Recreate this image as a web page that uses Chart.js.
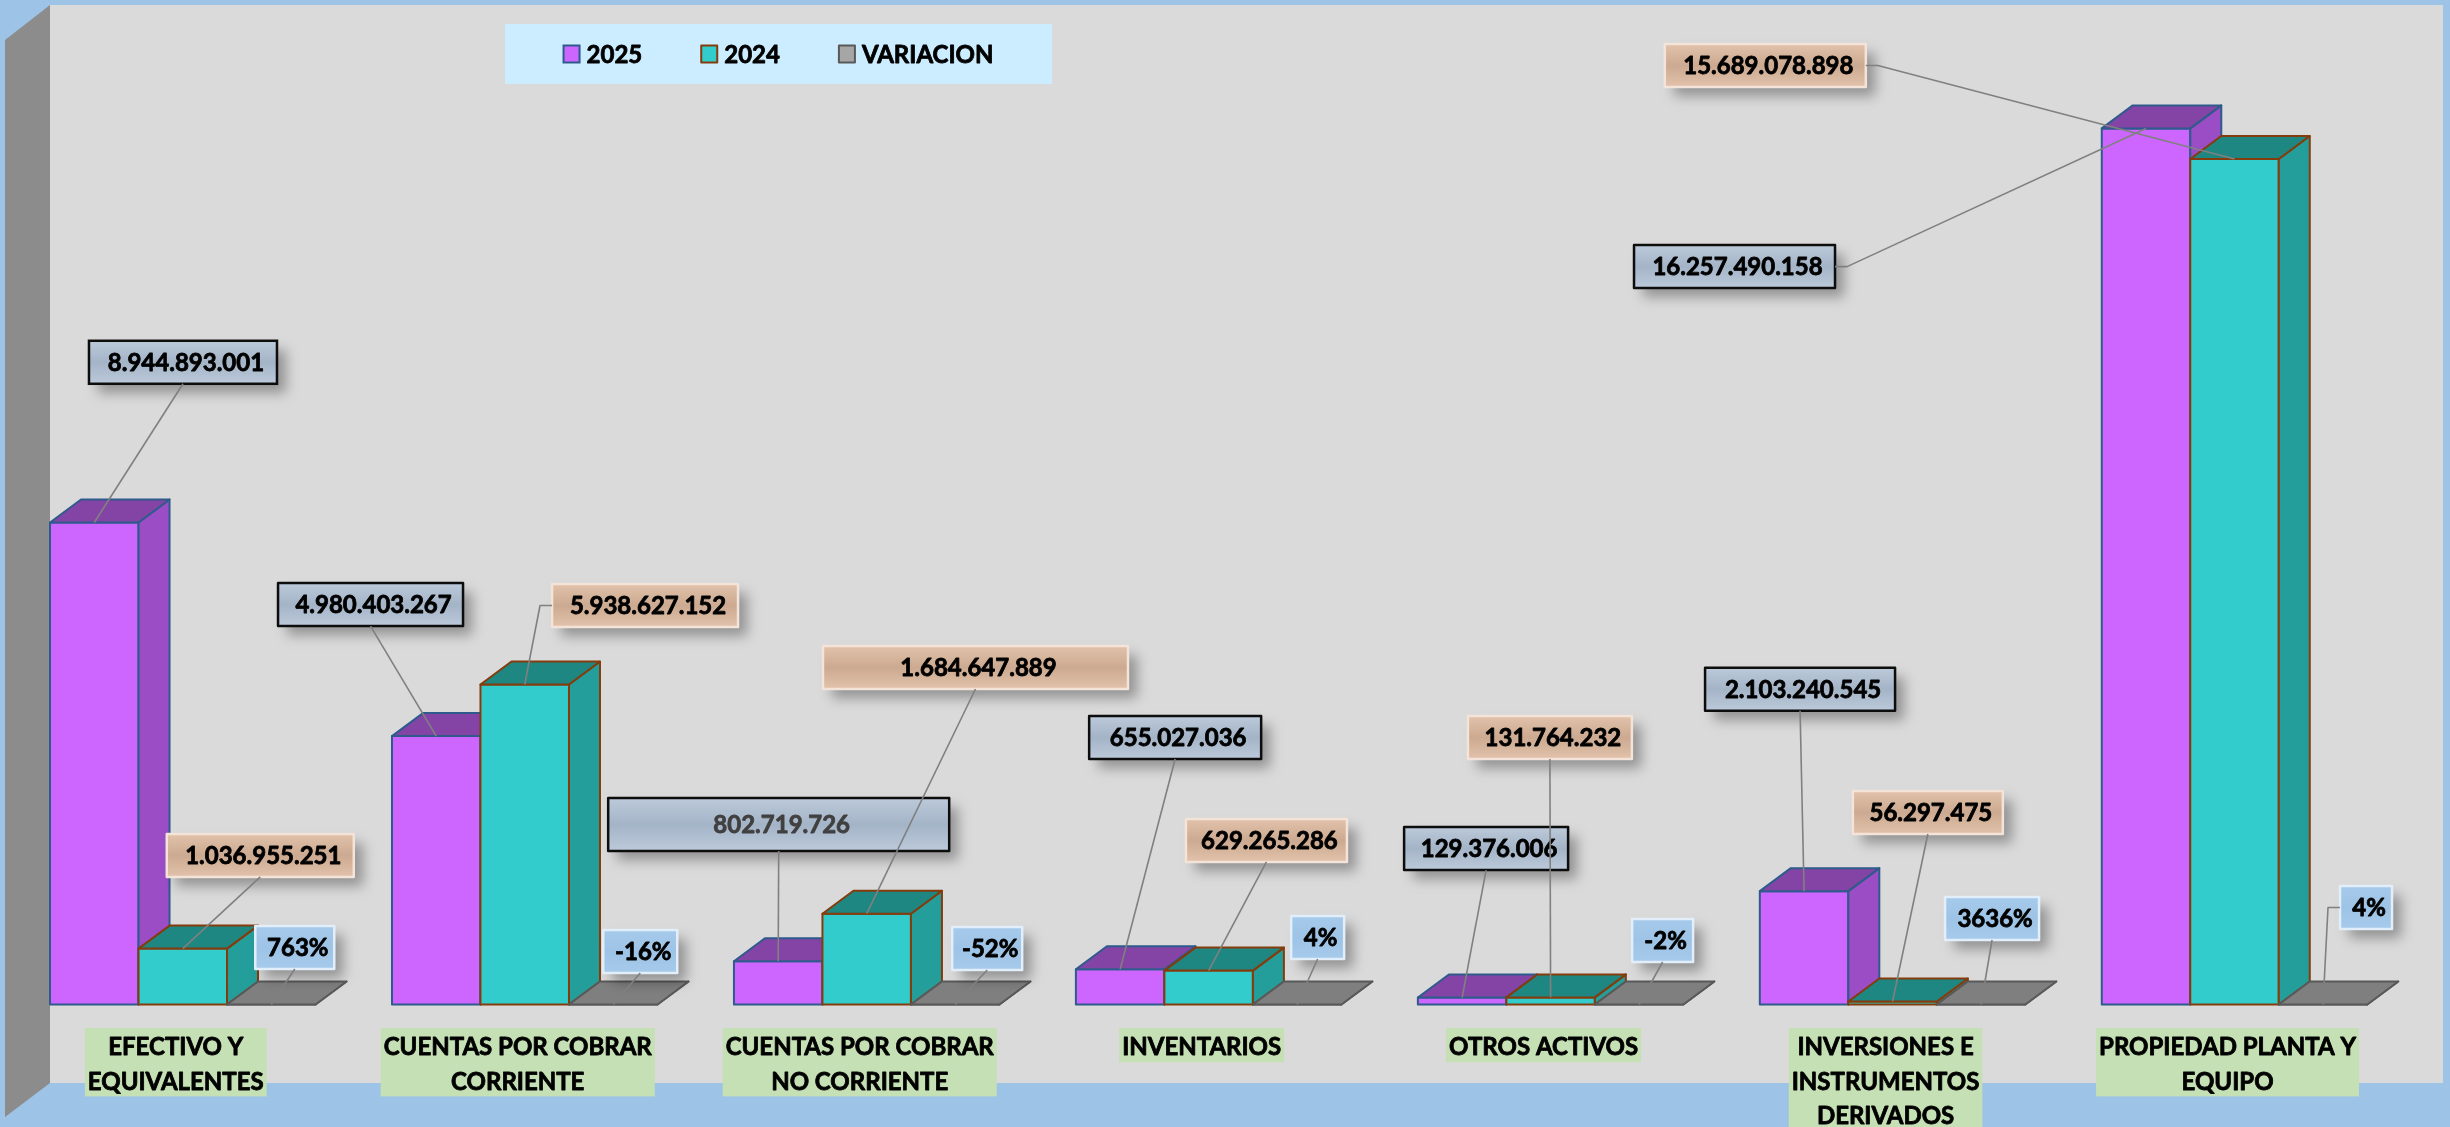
<!DOCTYPE html>
<html lang="es">
<head>
<meta charset="utf-8">
<title>Activos 2025 - 2024</title>
<script src="https://cdn.jsdelivr.net/npm/chart.js@4.4.1/dist/chart.umd.min.js"></script>
<style>
    html, body { margin: 0; padding: 0; background: #9DC3E6; }
    #contenedor { width: 2450px; height: 1127px; position: relative; }
</style>
</head>
<body>
<div id="contenedor"><canvas id="grafico"></canvas></div>
<script>
// Datos
const categorias = [
    ["EFECTIVO Y", "EQUIVALENTES"],
    ["CUENTAS POR COBRAR", "CORRIENTE"],
    ["CUENTAS POR COBRAR", "NO CORRIENTE"],
    ["INVENTARIOS"],
    ["OTROS ACTIVOS"],
    ["INVERSIONES E", "INSTRUMENTOS", "DERIVADOS"],
    ["PROPIEDAD PLANTA Y", "EQUIPO"]
];
const valores2025 = [8944893001, 4980403267, 802719726, 655027036, 129376006, 2103240545, 16257490158];
const valores2024 = [1036955251, 5938627152, 1684647889, 629265286, 131764232, 56297475, 15689078898];
const variacion = [763, -16, -52, 4, -2, 3636, 4];

// Posicion de cada etiqueta respecto a la barra: [dx, dy, ancho, alto, lado de la guia]
const posEtiq2025 = [[88.7, -160.2, 188], [-65.7, -131.5, 185], [0.5, -136.7, 341, 53], [55, -231.7, 172],
    [24, -149, 164], [-4, -202, 190], [-411.5, 138.2, 201, 43, 'der']];
const posEtiq2024 = [[77.5, -93.2, 187], [120.3, -79, 186, 43, 'izq'], [108.8, -246.2, 305], [57.8, -130.1, 161],
    [-0.7, -259.9, 164], [35.3, -189, 150], [-469.2, -93.5, 201, 43, 'der']];
const posEtiqVar = [[23.5, -57, 79], [27, -53, 74], [32, -56, 70], [20.5, -67, 53],
    [23.5, -64, 61], [11, -86, 94], [43, -97, 52, 43, 'izq']];
const posEtiquetas = [posEtiq2025, posEtiq2024, posEtiqVar];

const FUENTE = 'bold 24px Lato, "Open Sans", sans-serif';
const prof = {dx: 31, dy: 23};

const estilos3d = [
    {frente: '#CC66FF', lado: '#9B4DC6', tapa: '#8444A6', borde: '#2E5B8C'},
    {frente: '#33CCCC', lado: '#249E9B', tapa: '#1E8782', borde: '#843C0C'},
    {frente: '#7F7F7F', lado: '#707070', tapa: '#7F7F7F', borde: '#595959'}
];
const estilosEtiq = [
    {claro: '#BCCADA', fondo: '#A4B4C7', borde: '#0D0D0D', grosor: 2.5},
    {claro: '#E2C2AB', fondo: '#CCAA91', borde: '#F3E3D8', grosor: 2.5},
    {claro: '#A6CAEA', fondo: '#9DC3E6', borde: '#E2EEF9', grosor: 2.5}
];
const coloresLeyenda = [
    {fondo: '#CC66FF', borde: '#2E5B8C'},
    {fondo: '#33CCCC', borde: '#843C0C'},
    {fondo: '#A6A6A6', borde: '#595959'}
];

const formatoMiles = v => String(v).replace(/\B(?=(\d{3})+(?!\d))/g, ".");

// texto con un trazo fino para parecerse al negrita de Calibri
function textoGrueso(ctx, texto, x, y, color) {
    ctx.fillStyle = color;
    ctx.strokeStyle = color;
    ctx.lineWidth = 0.8;
    ctx.lineJoin = 'round';
    ctx.fillText(texto, x, y);
    ctx.strokeText(texto, x, y);
}

function poligono(ctx, pts, relleno, borde) {
    ctx.beginPath();
    ctx.moveTo(pts[0][0], pts[0][1]);
    for (let k = 1; k < pts.length; k++) ctx.lineTo(pts[k][0], pts[k][1]);
    ctx.closePath();
    ctx.fillStyle = relleno;
    ctx.fill();
    ctx.strokeStyle = borde;
    ctx.stroke();
}

// Barras 3D dibujadas desde los elementos del grafico
function dibujarBarras(chart) {
    const ctx = chart.ctx;
    const metas = chart.data.datasets.map((ds, d) => chart.getDatasetMeta(d));
    ctx.save();
    ctx.lineWidth = 2;
    ctx.lineJoin = 'round';
    categorias.forEach((c, i) => {
        metas.forEach((meta, d) => {
            const el = meta.data[i];
            const e = estilos3d[d];
            const x0 = el.x - el.width / 2, x1 = el.x + el.width / 2;
            const top = Math.min(el.y, el.base), base = el.base;
            const {dx, dy} = prof;
            poligono(ctx, [[x0, top], [x1, top], [x1, base], [x0, base]], e.frente, e.borde);
            poligono(ctx, [[x1, top], [x1 + dx, top - dy], [x1 + dx, base - dy], [x1, base]], e.lado, e.borde);
            poligono(ctx, [[x0, top], [x0 + dx, top - dy], [x1 + dx, top - dy], [x1, top]], e.tapa, e.borde);
        });
    });
    ctx.restore();
}

function dibujarCategorias(chart) {
    const ctx = chart.ctx, escala = chart.scales.x, base = chart.chartArea.bottom;
    ctx.save();
    ctx.font = FUENTE;
    ctx.textAlign = 'center';
    ctx.textBaseline = 'alphabetic';
    categorias.forEach((lineas, i) => {
        const cx = escala.getPixelForValue(i) - 7;
        const ancho = Math.max(...lineas.map(l => ctx.measureText(l).width)) + 6;
        const sup = base + 23.5;
        ctx.fillStyle = '#C5E0B4';
        ctx.fillRect(cx - ancho / 2, sup, ancho, 34.2 * lineas.length);
        lineas.forEach((l, k) => textoGrueso(ctx, l, cx, sup + 27.3 + k * 34.3, '#000000'));
    });
    ctx.restore();
}

function dibujarEtiquetas(chart) {
    const ctx = chart.ctx;
    const guias = [];
    ctx.save();
    ctx.font = FUENTE;
    ctx.textAlign = 'center';
    ctx.textBaseline = 'middle';
    chart.data.datasets.forEach((ds, d) => {
        const meta = chart.getDatasetMeta(d);
        const est = estilosEtiq[d];
        meta.data.forEach((el, i) => {
            const [dx, dy, w, h = 43, lado] = posEtiquetas[d][i];
            const ax = el.x, ay = Math.min(el.y, el.base);
            const cx = ax + dx, cy = ay + dy;
            const x0 = cx - w / 2, y0 = cy - h / 2;

            ctx.save();
            ctx.shadowColor = 'rgba(0,0,0,0.33)';
            ctx.shadowBlur = 12;
            ctx.shadowOffsetX = 9;
            ctx.shadowOffsetY = 9;
            const g = ctx.createLinearGradient(0, y0, 0, y0 + h);
            g.addColorStop(0, est.claro);
            g.addColorStop(0.5, est.fondo);
            g.addColorStop(1, est.claro);
            ctx.fillStyle = g;
            ctx.fillRect(x0, y0, w, h);
            ctx.restore();

            ctx.lineWidth = est.grosor;
            ctx.strokeStyle = est.borde;
            ctx.strokeRect(x0, y0, w, h);

            const v = ds.data[i];
            const texto = d === 2 ? v + '%' : formatoMiles(v);
            textoGrueso(ctx, texto, cx + 3, cy + 1, (h > 43) ? '#404040' : '#000000');

            if (lado === 'der') guias.push([[x0 + w, cy], [x0 + w + 12, cy], [ax, ay]]);
            else if (lado === 'izq') guias.push([[x0, cy], [x0 - 12, cy], [ax, ay]]);
            else guias.push([[cx, y0 + h], [ax, ay]]);
        });
    });

    // lineas guia
    ctx.strokeStyle = '#808080';
    ctx.lineWidth = 1.6;
    guias.forEach(pts => {
        ctx.beginPath();
        ctx.moveTo(pts[0][0], pts[0][1]);
        pts.slice(1).forEach(p => ctx.lineTo(p[0], p[1]));
        ctx.stroke();
    });
    ctx.restore();
}

function dibujarLeyenda(chart) {
    const ctx = chart.ctx;
    const caja = {x: 505, y: 24, w: 547, h: 60};
    ctx.save();
    ctx.fillStyle = '#CCECFF';
    ctx.fillRect(caja.x, caja.y, caja.w, caja.h);
    ctx.font = FUENTE;
    const items = chart.data.datasets.map(ds => ({texto: ds.label, w: ctx.measureText(ds.label).width}));
    const total = items.reduce((s, it) => s + 23 + it.w, 0) + 59 * (items.length - 1);
    let x = caja.x + caja.w / 2 - total / 2;
    const cy = caja.y + caja.h / 2;
    ctx.textAlign = 'left';
    ctx.textBaseline = 'middle';
    items.forEach((it, d) => {
        ctx.fillStyle = coloresLeyenda[d].fondo;
        ctx.fillRect(x, cy - 8.5, 16, 17);
        ctx.strokeStyle = coloresLeyenda[d].borde;
        ctx.lineWidth = 2;
        ctx.strokeRect(x, cy - 8.5, 16, 17);
        textoGrueso(ctx, it.texto, x + 23, cy + 1, '#000000');
        x += 23 + it.w + 59;
    });
    ctx.restore();
}

const pluginExcel3d = {
    id: 'excel3d',
    beforeDraw(chart) {
        const ctx = chart.ctx, a = chart.chartArea;
        const izq = 50, der = chart.width - 7, sup = 5, inf = a.bottom + 78.5;
        ctx.save();
        ctx.fillStyle = '#9DC3E6';
        ctx.fillRect(0, 0, chart.width, chart.height);
        ctx.fillStyle = '#DADADA';
        ctx.fillRect(izq, sup, der - izq, inf - sup);
        // pared lateral
        ctx.fillStyle = '#8C8C8C';
        ctx.beginPath();
        ctx.moveTo(5, 40);
        ctx.lineTo(izq, sup);
        ctx.lineTo(izq, inf);
        ctx.lineTo(5, inf + 34);
        ctx.closePath();
        ctx.fill();
        ctx.restore();
    },
    beforeDatasetsDraw(chart) {
        dibujarBarras(chart);
        return false;
    },
    afterDraw(chart) {
        dibujarCategorias(chart);
        dibujarEtiquetas(chart);
        dibujarLeyenda(chart);
    }
};

new Chart(document.getElementById("grafico"), {
    type: "bar",
    data: {
        labels: categorias,
        datasets: [
            {label: "2025", data: valores2025, backgroundColor: estilos3d[0].frente, borderColor: estilos3d[0].borde},
            {label: "2024", data: valores2024, backgroundColor: estilos3d[1].frente, borderColor: estilos3d[1].borde},
            {label: "VARIACION", data: variacion, backgroundColor: estilos3d[2].frente, borderColor: estilos3d[2].borde}
        ]
    },
    options: {
        responsive: true,
        maintainAspectRatio: false,
        devicePixelRatio: 1,
        animation: false,
        layout: {padding: {left: 11.8, right: 44.5, top: 34.5, bottom: 122.5}},
        datasets: {bar: {categoryPercentage: 0.7764, barPercentage: 1}},
        plugins: {legend: {display: false}, tooltip: {enabled: false}},
        scales: {
            x: {display: false},
            y: {display: false, min: 0, max: 18e9}
        }
    },
    plugins: [pluginExcel3d]
});
</script>
</body>
</html>
